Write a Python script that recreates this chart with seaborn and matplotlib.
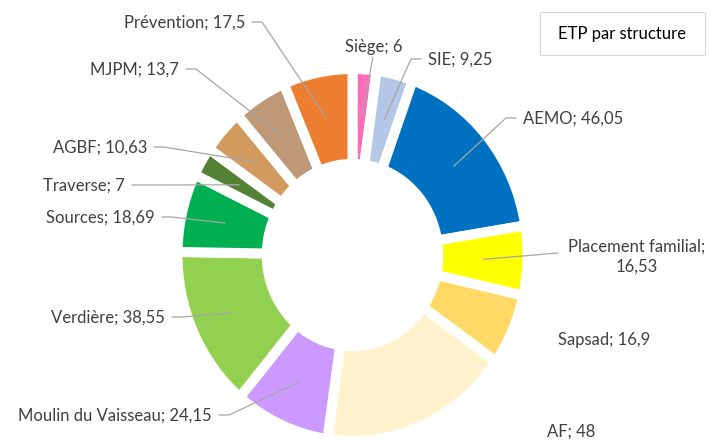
import numpy as np
import matplotlib
matplotlib.use("Agg")
import matplotlib.pyplot as plt
import seaborn as sns

# data (clockwise from the top)
structures = ["Siège", "SIE", "AEMO", "Placement familial", "Sapsad", "AF",
              "Moulin du Vaisseau", "Verdière", "Sources", "Traverse", "AGBF",
              "MJPM", "Prévention"]
etp = [6, 9.25, 46.05, 16.53, 16.9, 48, 24.15, 38.55, 18.69, 7, 10.63, 13.7, 17.5]
colors = ["#FF6CB8", "#B4C7E7", "#0070C0", "#FFFF00", "#FFD966", "#FFF2CC",
          "#CC99FF", "#92D050", "#00B050", "#548235", "#D39A60", "#BF9878",
          "#ED7D31"]
title = "ETP par structure"

# label placement in image pixels: (x, y, ha, leader?)
label_pos = [
    (374, 47, "center", True),
    (428, 60, "left", True),
    (523, 119, "left", True),
    (565, 257, "center2", True),
    (558, 340, "left", False),
    (547, 432, "left", False),
    (212, 416, "right", True),
    (165, 318, "right", True),
    (155, 218, "right", True),
    (125, 186, "right", True),
    (147, 148, "right", True),
    (179, 70, "right", True),
    (245, 23, "right", True),
]

sns.set_theme(style="white")
plt.rcParams["font.family"] = ["Lato", "DejaVu Sans"]

W, H = 710, 443
fig = plt.figure(figsize=(W / 100, H / 100), dpi=100)
ax = fig.add_axes([0, 0, 1, 1])

wedges, _ = ax.pie(etp, colors=sns.color_palette(colors), startangle=90,
                   counterclock=False, radius=1,
                   wedgeprops=dict(width=0.51, edgecolor="white", linewidth=7.2))
# slightly taller than wide, like the original
cx, cy = 352.5, 255
sx, sy = 175, 186
ax.set_aspect("auto")
ax.set_xlim(-cx / sx, (W - cx) / sx)
ax.set_ylim(-(H - cy) / sy, cy / sy)
ax.axis("off")

# overlay axes in image pixel coordinates for labels
ov = fig.add_axes([0, 0, 1, 1], facecolor="none")
ov.set_xlim(0, W)
ov.set_ylim(H, 0)
ov.axis("off")

txt_color = "#404040"
line_color = "#A6A6A6"
fs = 12

for name, val, w, (lx, ly, ha, leader) in zip(structures, etp, wedges, label_pos):
    vtxt = f"{val:g}".replace(".", ",")
    mid = np.deg2rad((w.theta1 + w.theta2) / 2)
    px, py = ax.transData.transform((0.75 * np.cos(mid), 0.75 * np.sin(mid)))
    py = H - py
    if ha == "center2":
        ov.text(lx + 72, ly, f"{name};\n{vtxt}", ha="center", va="center",
                fontsize=fs, color=txt_color, linespacing=1.3)
        pts = [(lx - 7, ly - 4), (px, py)]
    elif ha == "center":
        ov.text(lx, ly, f"{name}; {vtxt}", ha="center", va="center",
                fontsize=fs, color=txt_color)
        pts = [(lx - 1, ly + 10), (px, py)]
    else:
        ov.text(lx, ly, f"{name}; {vtxt}", ha=ha, va="center",
                fontsize=fs, color=txt_color)
        d = 1 if ha == "right" else -1
        pts = [(lx + d * 7, ly - 1), (lx + d * 17, ly - 1), (px, py)]
    if leader:
        xs, ys = zip(*pts)
        ov.plot(xs, ys, color=line_color, lw=0.9)

# title box
ov.add_patch(plt.Rectangle((540, 12), 165, 43, fill=False,
                           edgecolor="#D9D9D9", lw=0.8))
ov.text(622, 34, title, ha="center", va="center", fontsize=12, color="black")

fig.savefig("out.png", dpi=100)
